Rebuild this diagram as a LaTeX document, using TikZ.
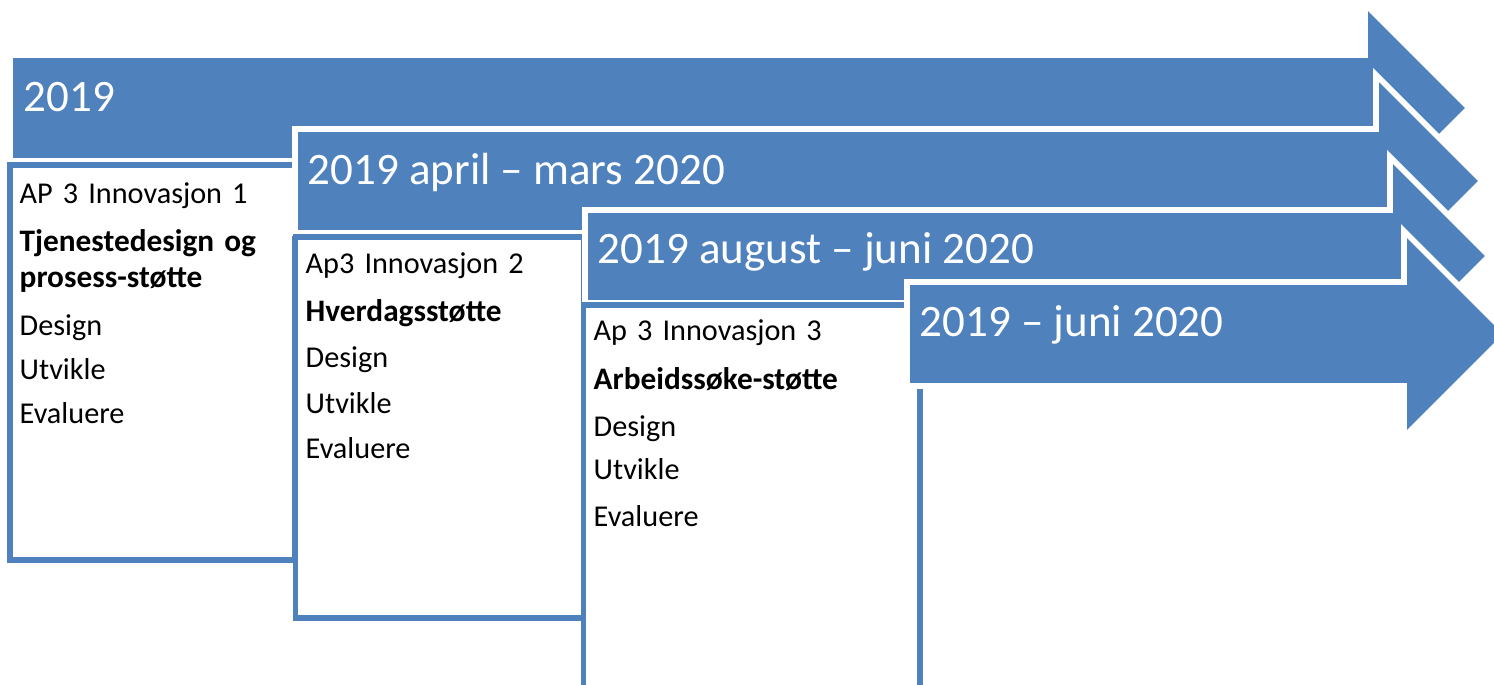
\documentclass[tikz,border=0pt]{standalone}
\usepackage{fontspec}
\setmainfont{Carlito}
\usepackage{tikz}
\definecolor{accent}{HTML}{4F81BD}
\newcommand{\stress}[1]{{\fontsize{8.9pt}{10.2pt}\selectfont\bfseries #1}}
\tikzset{timearrow/.style = {fill=accent, draw=white, line width=1.6pt}}
\tikzset{phasebox/.style = {fill=white, draw=accent, line width=1.5pt}}
\tikzset{arrowlabel/.style = {text=white, inner sep=0, anchor=base west, font=\fontsize{12.8pt}{15pt}\selectfont}}
\tikzset{boxlabel/.style = {inner sep=0, anchor=base west, text width=2.8cm, align=left, font=\fontsize{8.6pt}{10.2pt}\selectfont}}

\begin{document}
\begin{tikzpicture}[x=0.01cm, y=-0.01cm]
        \useasboundingbox (0,0) rectangle (1494,685);
        \clip (0,0) rectangle (1494,685);
        % 2019
        \filldraw [timearrow] (10,55) -- (1365,55) -- (1365,4) -- (1469,108) -- (1365,212) -- (1365,161) -- (10,161) -- cycle;
        \filldraw [phasebox] (10,165) rectangle (295,560);
        \node [boxlabel] (p1) at (19,203) {AP 3 Innovasjon 1\\[3.7pt]\stress{Tjenestedesign og}\\\stress{prosess-støtte}\\[3.4pt]Design\\[2.4pt]Utvikle\\[2.2pt]Evaluere};
        % april - mars
        \filldraw [timearrow] (295,129) -- (1376,129) -- (1376,75) -- (1482,181) -- (1376,287) -- (1376,233) -- (295,233) -- cycle;
        \filldraw [phasebox] (295.5,237) rectangle (583.5,618);
        \node [boxlabel] (p2) at (305,274) {Ap3 Innovasjon 2\\[3.4pt]\stress{Hverdagsstøtte}\\[2.9pt]Design\\[2.9pt]Utvikle\\[2.6pt]Evaluere};
        % august - juni
        \filldraw [timearrow] (585,210) -- (1390,210) -- (1390,157) -- (1489,256) -- (1390,355) -- (1390,303) -- (585,303) -- cycle;
        \filldraw [phasebox] (583.5,305) rectangle (920,720);
        \node [boxlabel] (p3) at (593,340) {Ap 3 Innovasjon 3\\[4pt]\stress{Arbeidssøke-støtte}\\[2.9pt]Design\\[2.3pt]Utvikle\\[2.9pt]Evaluere};
        % juni 2020
        \filldraw [timearrow] (907,282) -- (1404,282) -- (1404,231) -- (1507,334) -- (1404,437) -- (1404,386) -- (907,386) -- cycle;
        \node [arrowlabel] (t1) at (23,112) {2019};
        \node [arrowlabel] (t2) at (307,185) {2019 april – mars 2020};
        \node [arrowlabel] (t3) at (597,263) {2019 august – juni 2020};
        \node [arrowlabel] (t4) at (919,337) {2019 – juni 2020};
    \end{tikzpicture}
\end{document}
